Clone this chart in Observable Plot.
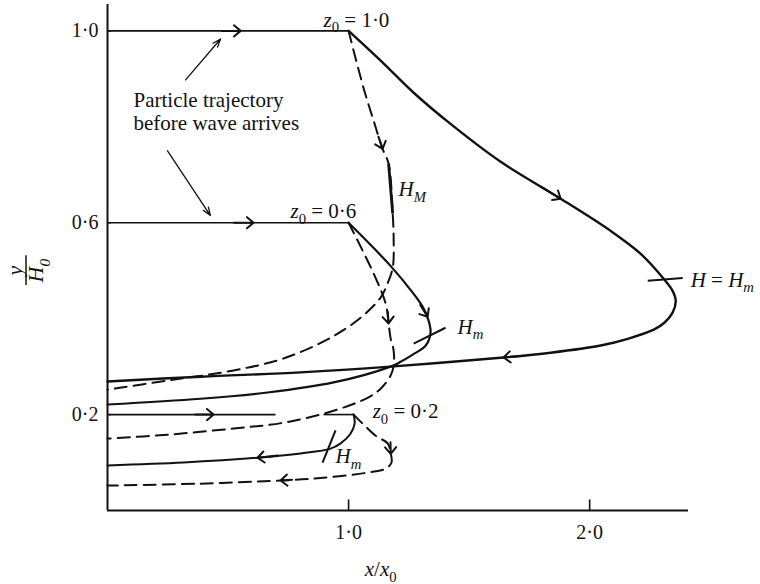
<!DOCTYPE html>
<html><head><meta charset="utf-8">
<script src="https://cdn.jsdelivr.net/npm/d3@7"></script>
<script src="https://cdn.jsdelivr.net/npm/@observablehq/plot@0.6"></script>
<style>
html,body{margin:0;padding:0;background:#fff;}
#chart{width:760px;height:584px;}
#chart text{font-family:"Liberation Serif","Times New Roman",serif;}
</style></head><body><div id="chart"></div>
<script>
// ---- axis ----
const xDomain = [0, 2.41];
const yDomain = [0, 1.055];
const xTicks = [1, 2];
const yTicks = [0.2, 0.6, 1.0];

// ---- starting heights (trajectory before wave arrives) ----
const startHeights = [1.0, 0.6, 0.2];
const beforeX1 = [0, 0, 0, 0.896];
const beforeX2 = [1.0, 1.0, 0.697, 1.021];
const beforeY = [1.0, 0.6, 0.2, 0.2];

// ---- z0 = 1.0 ----
const solid10X = [1.0, 1.133, 1.270, 1.423, 1.631, 1.880, 2.087, 2.212, 2.307, 2.344, 2.357, 2.344, 2.311, 2.266, 2.158, 2.046, 1.838, 1.643, 1.174, 0.801, 0.386, 0];
const solid10Y = [1.0, 0.938, 0.871, 0.806, 0.727, 0.650, 0.583, 0.535, 0.483, 0.458, 0.4375, 0.4125, 0.392, 0.377, 0.358, 0.344, 0.329, 0.319, 0.300, 0.288, 0.279, 0.269];
const dash10X = [1.0, 1.062, 1.104, 1.141, 1.166, 1.183, 1.187, 1.183, 1.158, 1.133, 1.050, 0.925, 0.730, 0.523, 0.249, 0];
const dash10Y = [1.0, 0.881, 0.8125, 0.754, 0.723, 0.619, 0.563, 0.506, 0.469, 0.444, 0.402, 0.360, 0.317, 0.292, 0.271, 0.252];

// ---- z0 = 0.6 ----
const solid06X = [1.0, 1.091, 1.174, 1.257, 1.307, 1.332, 1.340, 1.320, 1.266, 1.216, 1.174, 0.938, 0.664, 0.386, 0];
const solid06Y = [0.6, 0.554, 0.510, 0.460, 0.425, 0.396, 0.371, 0.344, 0.325, 0.310, 0.300, 0.267, 0.246, 0.233, 0.221];
const dash06X = [1.0, 1.104, 1.154, 1.166, 1.174, 1.187, 1.187, 1.174, 1.133, 1.079, 0.938, 0.730, 0.523, 0.249, 0];
const dash06Y = [0.6, 0.494, 0.431, 0.390, 0.360, 0.333, 0.302, 0.281, 0.254, 0.235, 0.208, 0.183, 0.171, 0.158, 0.150];

// ---- z0 = 0.2 ----
const solid02X = [1.021, 1.025, 1.008, 0.967, 0.925, 0.801, 0.622, 0.315, 0];
const solid02Y = [0.2, 0.181, 0.160, 0.140, 0.129, 0.119, 0.110, 0.100, 0.094];
const dash02X = [1.021, 1.112, 1.162, 1.174, 1.178, 1.154, 1.079, 0.871, 0.718, 0.386, 0];
const dash02Y = [0.2, 0.156, 0.140, 0.121, 0.100, 0.0875, 0.079, 0.067, 0.0625, 0.056, 0.052];

// ---- H markers (short strokes across the paths) ----
const hTickX1 = [1.166, 1.270, 2.241, 0.946];
const hTickY1 = [0.723, 0.348, 0.479, 0.167];
const hTickX2 = [1.183, 1.402, 2.386, 0.892];
const hTickY2 = [0.619, 0.381, 0.485, 0.100];
const hTickW = [2.8, 2, 2, 2];

// ---- direction arrows on the paths (tail -> tip) ----
const arrowX1 = [0.40, 0.45, 0.29, 1.734, 1.80, 1.100, 1.257, 1.158, 0.78, 1.172, 0.84];
const arrowY1 = [1.0, 0.6, 0.2, 0.695, 0.326, 0.815, 0.460, 0.452, 0.119, 0.180, 0.066];
const arrowX2 = [0.552, 0.606, 0.44, 1.880, 1.643, 1.141, 1.328, 1.166, 0.622, 1.175, 0.718];
const arrowY2 = [1.0, 0.6, 0.2, 0.650, 0.319, 0.754, 0.404, 0.390, 0.110, 0.118, 0.0625];

// ---- annotation ----
const noteText = "Particle trajectory\nbefore wave arrives";
const noteX = 0.108, noteY = 0.874;
const pointerX1 = [0.324, 0.249];
const pointerY1 = [0.898, 0.750];
const pointerX2 = [0.469, 0.427];
const pointerY2 = [0.983, 0.615];

// ---- labels ----
const labelTexts = ["z_0 = 1·0", "z_0 = 0·6", "z_0 = 0·2", "H_M", "H_m", "H = H_m", "H_m"];
const labelX = [0.896, 0.759, 1.100, 1.207, 1.452, 2.419, 0.946];
const labelY = [1.023, 0.623, 0.206, 0.669, 0.383, 0.481, 0.1125];

const xTitle = "x/x_0", xTitleX = 1.133, xTitleY = -0.123;
const yTitleNum = "y", yTitleDen = "H_0";
const yTitleX = [-0.385, -0.295], yTitleY = 0.5;
const yBarX = -0.338, yBarY1 = 0.469, yBarY2 = 0.531;

const fmt = d => d.toFixed(1).replace(".", "·");
const pts = (X, Y) => X.map((x, i) => ({x, y: Y[i]}));
const ink = "#111";
const dash = "12,7";
const serif = "Liberation Serif";

const marks = [];
// axes lines
marks.push(Plot.ruleX([0], {y1: yDomain[0], y2: yDomain[1], stroke: ink, strokeWidth: 2}));
marks.push(Plot.ruleY([0], {x1: xDomain[0], x2: xDomain[1], stroke: ink, strokeWidth: 2}));
marks.push(Plot.ruleX(xTicks, {y1: 0, y2: 0.022, stroke: ink, strokeWidth: 1.6}));
marks.push(Plot.ruleY(yTicks, {x1: 0, x2: 0.017, stroke: ink, strokeWidth: 1.4}));
marks.push(Plot.axisX(xTicks, {tickSize: 0, tickPadding: 14, tickFormat: fmt, label: null, fontSize: 20, fontFamily: serif}));
marks.push(Plot.axisY(yTicks, {tickSize: 0, tickPadding: 9, tickFormat: fmt, label: null, fontSize: 20, fontFamily: serif}));

// before-wave horizontal paths
marks.push(Plot.link(beforeY.map((y, i) => ({x1: beforeX1[i], x2: beforeX2[i], y})),
  {x1: "x1", x2: "x2", y1: "y", y2: "y", stroke: ink, strokeWidth: 1.6}));

// solid and dashed trajectories
const solids = [[solid10X, solid10Y, 2.4], [solid06X, solid06Y, 2.2], [solid02X, solid02Y, 2.0]];
for (const [X, Y, w] of solids)
  marks.push(Plot.line(pts(X, Y), {x: "x", y: "y", curve: "catmull-rom", stroke: ink, strokeWidth: w}));
const dashes = [[dash10X, dash10Y], [dash06X, dash06Y], [dash02X, dash02Y]];
for (const [X, Y] of dashes)
  marks.push(Plot.line(pts(X, Y), {x: "x", y: "y", curve: "catmull-rom", stroke: ink, strokeWidth: 2, strokeDasharray: dash}));

// H markers
marks.push(Plot.link(hTickX1.map((x1, i) => ({x1, y1: hTickY1[i], x2: hTickX2[i], y2: hTickY2[i], w: hTickW[i]})),
  {x1: "x1", y1: "y1", x2: "x2", y2: "y2", stroke: ink, strokeWidth: "w"}));

// direction arrows
marks.push(Plot.arrow(arrowX1.map((x1, i) => ({x1, y1: arrowY1[i], x2: arrowX2[i], y2: arrowY2[i]})),
  {x1: "x1", y1: "y1", x2: "x2", y2: "y2", stroke: ink, strokeWidth: 2, headLength: 6.5, headAngle: 80, insetStart: 18}));

// annotation
marks.push(Plot.text([{x: noteX, y: noteY, t: noteText}], {x: "x", y: "y", text: "t", textAnchor: "start", lineAnchor: "top", lineHeight: 1.08, fontSize: 21, fontFamily: serif, fill: ink}));
marks.push(Plot.arrow(pointerX1.map((x1, i) => ({x1, y1: pointerY1[i], x2: pointerX2[i], y2: pointerY2[i]})),
  {x1: "x1", y1: "y1", x2: "x2", y2: "y2", stroke: ink, strokeWidth: 1.3, headLength: 10, headAngle: 40}));

// labels
marks.push(Plot.text(labelTexts.map((t, i) => ({t, x: labelX[i], y: labelY[i]})),
  {x: "x", y: "y", text: "t", textAnchor: "start", fontSize: 21, fontFamily: serif, fill: ink}));
marks.push(Plot.text([{t: xTitle, x: xTitleX, y: xTitleY}], {x: "x", y: "y", text: "t", textAnchor: "middle", fontSize: 21, fontFamily: serif, fill: ink}));
marks.push(Plot.text([yTitleNum, yTitleDen].map((t, i) => ({t, x: yTitleX[i], y: yTitleY})),
  {x: "x", y: "y", text: "t", rotate: -90, textAnchor: "middle", fontSize: 22, fontStyle: "italic", fontFamily: serif, fill: ink}));
marks.push(Plot.ruleX([yBarX], {y1: yBarY1, y2: yBarY2, stroke: ink, strokeWidth: 1.5}));

const svg = Plot.plot({
  width: 760, height: 584,
  marginLeft: 107, marginRight: 72, marginTop: 4, marginBottom: 74,
  x: {domain: xDomain},
  y: {domain: yDomain},
  style: {fontFamily: "Liberation Serif, Times New Roman, serif", background: "#fff", color: ink, overflow: "visible"},
  marks
});
document.getElementById("chart").append(svg);

// subscripts and italic variables in math labels
function mathify(root) {
  const NS = "http://www.w3.org/2000/svg";
  for (const el of root.querySelectorAll("text, tspan")) {
    if (el.children.length) continue;
    const s = el.textContent;
    if (!s.includes("_")) continue;
    const fs = parseFloat(getComputedStyle(el).fontSize) || 20;
    const segs = [];
    for (let i = 0; i < s.length; i++) {
      let ch = s[i], sub = false;
      if (ch === "_" && i + 1 < s.length) { sub = true; ch = s[++i]; }
      const it = /[A-Za-z]/.test(ch);
      const last = segs[segs.length - 1];
      if (last && last.sub === sub && last.it === it) last.t += ch;
      else segs.push({t: ch, sub, it});
    }
    el.textContent = "";
    let shifted = false;
    for (const g of segs) {
      const ts = document.createElementNS(NS, "tspan");
      ts.textContent = g.t;
      if (g.it) ts.setAttribute("font-style", "italic");
      if (g.sub) {
        ts.setAttribute("font-size", (0.7 * fs).toFixed(1));
        if (!shifted) { ts.setAttribute("dy", (0.28 * fs).toFixed(1)); shifted = true; }
      } else if (shifted) { ts.setAttribute("dy", (-0.28 * fs).toFixed(1)); shifted = false; }
      ts.setAttribute("xml:space", "preserve");
      el.append(ts);
    }
    el.setAttribute("xml:space", "preserve");
  }
}
mathify(svg);
</script></body></html>
